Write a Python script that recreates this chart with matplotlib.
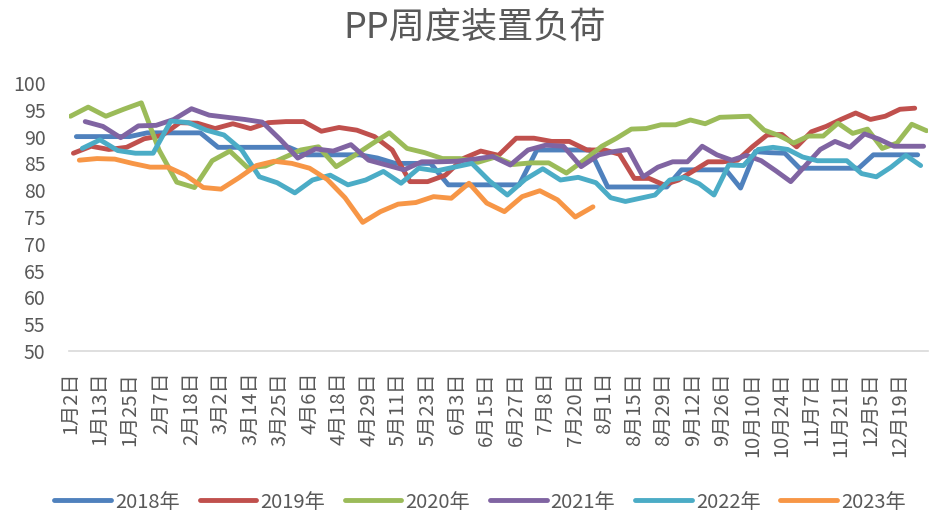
import datetime as dt
import matplotlib
matplotlib.use("Agg")
import matplotlib.pyplot as plt
from matplotlib.lines import Line2D

plt.rcParams['font.family'] = ['Noto Sans CJK SC', 'DejaVu Sans']

TITLE = "PP周度装置负荷"
SERIES_NAMES = ["2018年", "2019年", "2020年", "2021年", "2022年", "2023年"]
FIRST_DATES = ["2018-01-04", "2019-01-03", "2020-01-02", "2021-01-07", "2022-01-06", "2023-01-05"]
COLORS = ["#4F81BD", "#C0504D", "#9BBB59", "#8064A2", "#4BACC6", "#F79646"]
TICK_LABELS = ["1月2日", "1月13日", "1月25日", "2月7日", "2月18日", "3月2日", "3月14日",
               "3月25日", "4月6日", "4月18日", "4月29日", "5月11日", "5月23日", "6月3日",
               "6月15日", "6月27日", "7月8日", "7月20日", "8月1日", "8月15日", "8月29日",
               "9月12日", "9月26日", "10月10日", "10月24日", "11月7日", "11月21日",
               "12月5日", "12月19日"]
Y_TICKS = [50, 55, 60, 65, 70, 75, 80, 85, 90, 95, 100]

load_2018 = [90.0, 90.0, 90.0, 90.0, 90.7, 90.7, 90.7, 90.7, 88.0, 88.0, 88.0, 88.0, 88.0,
             86.6, 86.6, 86.6, 86.6, 86.0, 85.0, 85.0, 85.0, 81.0, 81.0, 81.0, 81.0, 81.0,
             87.5, 87.5, 87.5, 87.5, 80.6, 80.6, 80.6, 80.6, 80.6, 83.8, 83.8, 83.8, 83.8,
             80.4, 87.2, 87.0, 86.9, 84.1, 84.1, 84.1, 84.1, 84.1, 86.6, 86.6, 86.6, 86.6]
load_2019 = [86.9, 88.2, 87.6, 88.0, 89.6, 90.2, 92.6, 92.5, 91.5, 92.4, 91.5, 92.6, 92.8,
             92.8, 91.0, 91.7, 91.2, 90.0, 87.5, 81.6, 81.6, 82.8, 85.9, 87.3, 86.5, 89.7,
             89.7, 89.1, 89.1, 87.5, 87.5, 86.7, 82.2, 82.2, 81.0, 81.9, 83.6, 85.3, 85.3,
             85.6, 88.1, 90.3, 90.4, 88.1, 90.9, 91.9, 93.2, 94.4, 93.2, 93.8, 95.1, 95.3]
load_2020 = [93.8, 95.5, 93.8, 95.1, 96.3, 87.5, 81.5, 80.5, 85.5, 87.3, 84.2, 84.5, 86.0,
             87.5, 88.1, 84.4, 86.4, 88.6, 90.7, 87.8, 87.0, 85.9, 85.9, 85.2, 86.2, 84.8,
             85.1, 85.1, 83.2, 85.6, 88.2, 89.7, 91.4, 91.5, 92.2, 92.2, 93.1, 92.4, 93.6,
             93.7, 93.8, 91.2, 90.2, 88.8, 90.1, 90.1, 92.5, 90.6, 91.4, 87.8, 88.8, 92.3, 91.1]
load_2021 = [92.8, 91.9, 89.8, 92.0, 92.1, 93.2, 95.2, 94.0, 93.6, 93.2, 92.7, 89.5, 86.0,
             87.7, 87.3, 88.5, 85.6, 84.7, 83.8, 85.3, 85.3, 85.4, 85.8, 86.3, 84.7, 87.5,
             88.4, 88.2, 84.4, 86.6, 87.2, 87.6, 82.5, 84.3, 85.3, 85.3, 88.2, 86.6, 85.6,
             86.5, 85.5, 83.6, 81.6, 84.6, 87.6, 89.1, 88.0, 90.5, 89.5, 88.2, 88.2, 88.2]
load_2022 = [87.8, 89.4, 87.4, 86.9, 86.9, 92.9, 92.6, 91.2, 90.3, 87.5, 82.5, 81.4, 79.5,
             81.9, 82.8, 81.0, 81.9, 83.5, 81.3, 84.1, 83.6, 84.3, 85.0, 81.7, 79.1, 82.0,
             84.0, 81.9, 82.4, 81.4, 78.6, 77.9, 78.5, 79.1, 81.9, 82.4, 81.2, 79.1, 84.7,
             84.6, 87.6, 88.0, 87.6, 86.2, 85.5, 85.5, 85.5, 83.1, 82.5, 84.3, 86.5, 84.6]
load_2023 = [85.6, 85.9, 85.8, 85.0, 84.3, 84.3, 82.8, 80.5, 80.2, 82.3, 84.6, 85.4, 85.0,
             84.1, 82.0, 78.6, 74.0, 76.0, 77.4, 77.7, 78.8, 78.5, 81.3, 77.6, 76.0, 78.8,
             79.9, 78.2, 75.0, 76.9]

SERIES = [load_2018, load_2019, load_2020, load_2021, load_2022, load_2023]

# weekly dates of each series -> shared text category axis (union of month/day)
series_keys = []
for first, vals in zip(FIRST_DATES, SERIES):
    d0 = dt.date.fromisoformat(first)
    series_keys.append([((d0 + dt.timedelta(days=7 * k)).month,
                         (d0 + dt.timedelta(days=7 * k)).day) for k in range(len(vals))])
categories = sorted(set(k for keys in series_keys for k in keys))
cat_index = {k: i for i, k in enumerate(categories)}
cat_labels = [f"{m}月{d}日" for (m, d) in categories]
N = len(categories)

fig = plt.figure(figsize=(9.3, 5.15), dpi=100)
ax = fig.add_axes([69 / 930, 1 - 351 / 515, (928 - 69) / 930, (351 - 83) / 515])

handles = []
for name, keys, vals, col in zip(SERIES_NAMES, series_keys, SERIES, COLORS):
    xs = [cat_index[k] for k in keys]
    ax.plot(xs, vals, color=col, lw=3.5, solid_capstyle='round',
            solid_joinstyle='round', label=name)
    handles.append(Line2D([0], [0], color=col, lw=3.5, solid_capstyle='round'))

ax.set_xlim(-0.5, N - 0.5)
ax.set_ylim(50, 100)
ax.set_yticks(Y_TICKS)
ax.set_yticklabels([str(v) for v in Y_TICKS])

tick_pos = []
tick_lab = []
for t in TICK_LABELS:
    if t in cat_labels:
        tick_pos.append(cat_labels.index(t))
        tick_lab.append(t)
ax.set_xticks(tick_pos)
ax.set_xticklabels(tick_lab, rotation=90)

ax.tick_params(axis='y', length=0, pad=17, labelsize=14, labelcolor='#595959')
ax.tick_params(axis='x', length=0, pad=15, labelsize=14.5, labelcolor='#595959')
for s in ['top', 'right', 'left']:
    ax.spines[s].set_visible(False)
ax.spines['bottom'].set_color('#D9D9D9')
ax.spines['bottom'].set_linewidth(1.2)

fig.text(475 / 930, 1 - 28 / 515, TITLE, ha='center', va='center',
         fontsize=26, color='#595959')

fig.legend(handles, SERIES_NAMES, loc='center', bbox_to_anchor=(480 / 930, 1 - 502 / 515),
           ncol=6, frameon=False, handlelength=2.8, columnspacing=1.0,
           handletextpad=0.2, fontsize=14.5, labelcolor='#595959')

fig.savefig("out.png", dpi=100)
